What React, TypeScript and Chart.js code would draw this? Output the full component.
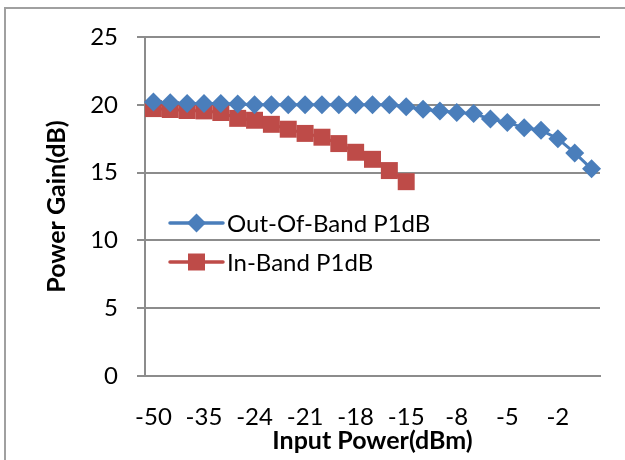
import React, { useEffect, useRef } from "react";
import { Chart, registerables } from "chart.js";

Chart.register(...registerables);

const categories: number[] = [
  -50, -45, -40, -35, -30, -27, -24, -23, -22, -21, -20, -19, -18, -17,
  -16, -15, -13, -10, -8, -7, -6, -5, -4, -3, -2, -1, 0,
];

const outOfBand: number[] = [
  20.2, 20.15, 20.1, 20.1, 20.1, 20.05, 20.0, 20.0, 20.0, 20.0, 20.0, 20.0,
  20.0, 20.0, 20.0, 19.85, 19.68, 19.55, 19.43, 19.35, 18.95, 18.7, 18.3,
  18.13, 17.5, 16.45, 15.28,
];

const inBand: number[] = [
  19.72, 19.65, 19.58, 19.55, 19.43, 19.0, 18.86, 18.56, 18.2, 17.89, 17.61,
  17.14, 16.5, 15.98, 15.15, 14.33,
];

const seriesNames: string[] = ["Out-Of-Band P1dB", "In-Band P1dB"];
const yTicks: number[] = [0, 5, 10, 15, 20, 25];

const BLUE = "#4A7EBB";
const RED = "#BE4B48";
const GRID = "#8C8C8C";
const FONT = "Lato, 'Open Sans', sans-serif";

const framePlugin = {
  id: "frame",
  beforeDraw(chart: any) {
    const ctx = chart.ctx;
    ctx.save();
    ctx.strokeStyle = "#A0A0A0";
    ctx.lineWidth = 2;
    ctx.beginPath();
    ctx.moveTo(5, chart.height);
    ctx.lineTo(5, 8);
    ctx.lineTo(chart.width, 8);
    ctx.stroke();
    ctx.restore();
  },
};

const legendPlugin = {
  id: "insideLegend",
  afterDatasetsDraw(chart: any) {
    const ctx = chart.ctx;
    const area = chart.chartArea;
    const x0 = area.left + 25;
    const x1 = area.left + 78;
    const xm = (x0 + x1) / 2;
    const rows = [
      { y: area.top + 186, color: BLUE, shape: "diamond", text: seriesNames[0] },
      { y: area.top + 225, color: RED, shape: "square", text: seriesNames[1] },
    ];
    ctx.save();
    rows.forEach((r) => {
      ctx.strokeStyle = r.color;
      ctx.lineWidth = 3.5;
      ctx.lineCap = "round";
      ctx.beginPath();
      ctx.moveTo(x0, r.y);
      ctx.lineTo(x1, r.y);
      ctx.stroke();
      ctx.fillStyle = r.color;
      ctx.beginPath();
      if (r.shape === "diamond") {
        const s = 9.5;
        ctx.moveTo(xm - s, r.y);
        ctx.lineTo(xm, r.y - s);
        ctx.lineTo(xm + s, r.y);
        ctx.lineTo(xm, r.y + s);
        ctx.closePath();
      } else {
        const s = 8.5;
        ctx.rect(xm - s, r.y - s, 2 * s, 2 * s);
      }
      ctx.fill();
      ctx.fillStyle = "#000";
      ctx.font = `24px ${FONT}`;
      ctx.textBaseline = "middle";
      ctx.textAlign = "left";
      ctx.fillText(r.text, x1 + 4, r.y + 1);
    });
    ctx.restore();
  },
};

export default function App() {
  const ref = useRef<HTMLCanvasElement | null>(null);

  useEffect(() => {
    if (!ref.current) return;
    const chart = new Chart(ref.current, {
      type: "line",
      data: {
        labels: categories.map(String),
        datasets: [
          {
            label: seriesNames[0],
            data: outOfBand,
            borderColor: BLUE,
            backgroundColor: BLUE,
            borderWidth: 3,
            pointStyle: "rectRot",
            pointRadius: 9.5,
            pointBorderWidth: 0,
            pointBackgroundColor: BLUE,
          },
          {
            label: seriesNames[1],
            data: inBand,
            borderColor: RED,
            backgroundColor: RED,
            borderWidth: 3,
            pointStyle: "rect",
            pointRadius: 12,
            pointBorderWidth: 0,
            pointBackgroundColor: RED,
          },
        ],
      },
      options: {
        responsive: false,
        animation: false,
        layout: { padding: { left: 0, top: 37, right: 25, bottom: 0 } },
        plugins: {
          legend: { display: false },
          tooltip: { enabled: false },
        },
        scales: {
          x: {
            type: "category",
            offset: true,
            grid: { display: false, drawTicks: false },
            border: { display: true, color: GRID, width: 2 },
            ticks: {
              autoSkip: false,
              maxRotation: 0,
              minRotation: 0,
              padding: 27,
              color: "#000",
              font: { family: FONT, size: 24 },
              callback: (_v: any, i: number) =>
                i % 3 === 0 ? String(categories[i]) : "",
            },
            title: {
              display: true,
              text: "Input Power(dBm)",
              color: "#000",
              font: { family: FONT, size: 25, weight: "bold" },
              padding: { top: 0, bottom: 4 },
            },
            afterFit: (s: any) => {
              s.height = 84;
            },
          },
          y: {
            min: 0,
            max: 25,
            afterBuildTicks: (s: any) => {
              s.ticks = yTicks.map((v) => ({ value: v }));
            },
            grid: { color: GRID, lineWidth: 2, tickLength: 8 },
            border: { display: true, color: GRID, width: 2 },
            ticks: {
              padding: 19,
              color: "#000",
              font: { family: FONT, size: 24 },
            },
            title: {
              display: true,
              text: "Power Gain(dB)",
              color: "#000",
              font: { family: FONT, size: 25, weight: "bold" },
              padding: { top: 42, bottom: 0 },
            },
            afterFit: (s: any) => {
              s.width = 145;
            },
          },
        },
      },
      plugins: [framePlugin, legendPlugin],
    });
    return () => chart.destroy();
  }, []);

  return (
    <div style={{ position: "fixed", left: 0, top: 0, width: 625, height: 460, background: "#fff" }}>
      <canvas ref={ref} width={625} height={460} style={{ width: 625, height: 460 }} />
    </div>
  );
}
